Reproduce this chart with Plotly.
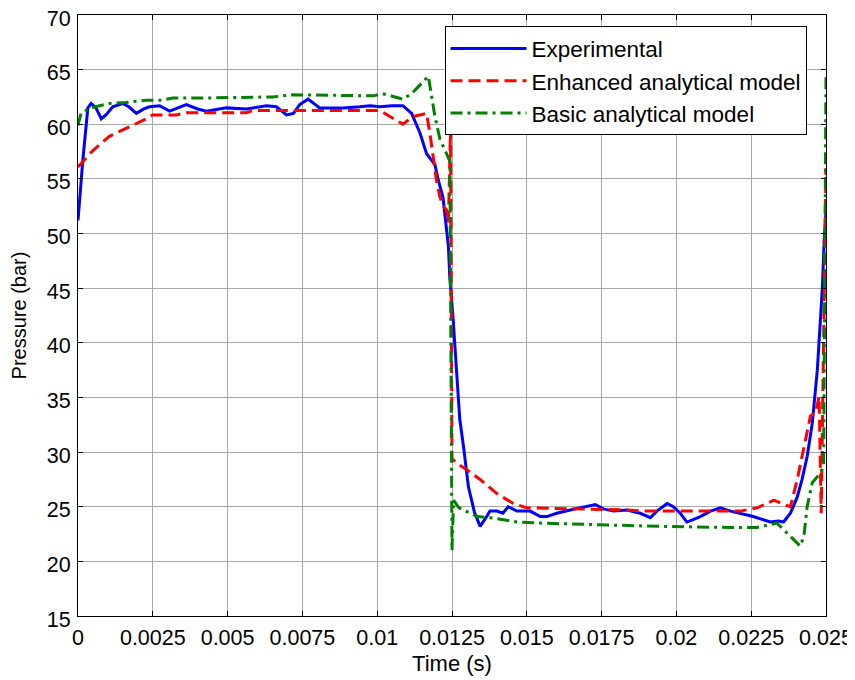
import plotly.graph_objects as go

# ---------------- data (time in s, pressure in bar) ----------------
exp_t = [0, 0.00016, 0.00033, 0.00044, 0.00060, 0.00078, 0.00095, 0.00116, 0.00149, 0.00170,
         0.00195, 0.00220, 0.00239, 0.00273, 0.00306, 0.00335, 0.00362, 0.00400, 0.00429, 0.00496,
         0.00563, 0.00630, 0.00663, 0.00697, 0.00720, 0.00741, 0.00769, 0.00808, 0.00885, 0.00942,
         0.00976, 0.01009, 0.01050, 0.01086, 0.01115, 0.01143, 0.01165, 0.01193, 0.01204, 0.01220,
         0.01238, 0.01243, 0.01254, 0.01265, 0.01276, 0.01288, 0.01305, 0.01325, 0.01344, 0.01366,
         0.01377, 0.01400, 0.01420, 0.01438, 0.01467, 0.01511, 0.01545, 0.01567, 0.01600, 0.01645,
         0.01678, 0.01729, 0.01756, 0.01790, 0.01835, 0.01879, 0.01913, 0.01935, 0.01969, 0.01990,
         0.02013, 0.02035, 0.02058, 0.02080, 0.02114, 0.02147, 0.02181, 0.02214, 0.02257, 0.02314,
         0.02341, 0.02358, 0.02381, 0.02404, 0.02420, 0.02437, 0.02454, 0.02471, 0.02482, 0.02488,
         0.02494, 0.02500]
exp_p = [51.2, 56.7, 61.5, 61.9, 61.5, 60.5, 60.9, 61.6, 61.9, 61.6,
         61.0, 61.4, 61.6, 61.7, 61.2, 61.5, 61.8, 61.4, 61.2, 61.5,
         61.4, 61.7, 61.6, 60.85, 61.0, 61.8, 62.3, 61.5, 61.5, 61.6,
         61.7, 61.6, 61.7, 61.7, 61.0, 59.2, 57.3, 56.3, 54.9, 53.3,
         48.8, 45.8, 42.1, 37.5, 33.0, 30.6, 26.8, 24.5, 23.2, 24.1,
         24.6, 24.6, 24.4, 25.0, 24.6, 24.6, 24.1, 24.1, 24.4, 24.7,
         24.9, 25.2, 24.8, 24.6, 24.7, 24.4, 24.0, 24.6, 25.3, 25.0,
         24.4, 23.6, 23.85, 24.1, 24.6, 24.9, 24.6, 24.4, 24.1, 23.6,
         23.7, 23.6, 24.4, 25.9, 27.5, 29.6, 32.6, 37.5, 42.5, 45.1,
         49.4, 52.0]

enh_t = [0, 0.00050, 0.00105, 0.00161, 0.00228, 0.00249, 0.00329, 0.00362, 0.00563, 0.00584,
         0.01010, 0.01086, 0.01119, 0.01165, 0.01176, 0.01198, 0.01209, 0.01220, 0.01231, 0.01238,
         0.01245, 0.01250, 0.01265, 0.01298, 0.01344, 0.01400, 0.01455, 0.01500, 0.01678, 0.01835,
         0.01902, 0.02080, 0.02214, 0.02270, 0.02326, 0.02360, 0.02381, 0.02404, 0.02426, 0.02448,
         0.02465, 0.02477, 0.02484, 0.02500]
enh_p = [56.1, 57.6, 58.9, 59.6, 60.5, 60.85, 60.85, 61.06, 61.06, 61.25,
         61.25, 60.0, 60.7, 61.0, 59.2, 54.9, 53.4, 52.5, 52.2, 51.0,
         59.5, 29.4, 29.0, 28.4, 27.5, 26.2, 25.3, 24.9, 24.8, 24.7,
         24.6, 24.6, 24.6, 24.9, 25.6, 25.2, 25.0, 27.5, 30.5, 33.3,
         33.6, 35.1, 24.4, 56.0]

bas_t = [0, 0.00010, 0.00040, 0.00105, 0.00161, 0.00228, 0.00273, 0.00318, 0.00407, 0.00651,
         0.00719, 0.00942, 0.00986, 0.01019, 0.01086, 0.01115, 0.01171, 0.01193, 0.01210, 0.01232,
         0.01243, 0.01250, 0.01255, 0.01273, 0.01335, 0.01377, 0.01420, 0.01467, 0.01545, 0.01678,
         0.01947, 0.02181, 0.02269, 0.02336, 0.02370, 0.02414, 0.02426, 0.02437, 0.02454, 0.02482,
         0.02492, 0.02500]
bas_p = [59.9, 61.0, 61.5, 61.9, 62.0, 62.2, 62.2, 62.4, 62.4, 62.5,
         62.7, 62.6, 62.6, 62.8, 62.3, 62.8, 64.4, 60.7, 58.6, 57.3,
         56.6, 21.0, 25.6, 24.9, 24.1, 24.0, 23.8, 23.6, 23.5, 23.4,
         23.2, 23.1, 23.1, 23.5, 22.6, 21.4, 22.3, 25.0, 27.2, 28.1,
         28.7, 64.5]

x_ticks = [0, 0.0025, 0.005, 0.0075, 0.01, 0.0125, 0.015, 0.0175, 0.02, 0.0225, 0.025]
x_tick_text = ["0", "0.0025", "0.005", "0.0075", "0.01", "0.0125", "0.015", "0.0175", "0.02", "0.0225", "0.025"]
y_ticks = [15, 20, 25, 30, 35, 40, 45, 50, 55, 60, 65, 70]

series_names = ["Experimental", "Enhanced analytical model", "Basic analytical model"]

FONT = "Liberation Sans, Arial, sans-serif"

fig = go.Figure()
fig.add_trace(go.Scatter(x=exp_t, y=exp_p, mode="lines", name=series_names[0],
                         line=dict(color="#0000FF", width=3), legendgroup="a"))
fig.add_trace(go.Scatter(x=enh_t, y=enh_p, mode="lines", name=series_names[1],
                         line=dict(color="#FF0000", width=3, dash="12px,6px"), legendgroup="b"))
fig.add_trace(go.Scatter(x=bas_t, y=bas_p, mode="lines", name=series_names[2],
                         line=dict(color="#008000", width=3, dash="12px,5px,3px,5px"), legendgroup="c"))

# page body adds an 8 px offset, so the figure is 8 px smaller and margins shifted
fig.update_layout(
    width=847, height=672,
    margin=dict(l=70, r=29, t=7, b=64, autoexpand=False),
    paper_bgcolor="white", plot_bgcolor="white",
    font=dict(family=FONT, size=22, color="black"),
    showlegend=True,
    legend=dict(x=0.49, y=0.981, xanchor="left", yanchor="top",
                bgcolor="white", bordercolor="black", borderwidth=1,
                font=dict(size=22.5), itemwidth=76, tracegroupgap=0),
)
fig.update_xaxes(range=[0, 0.025], tickmode="array", tickvals=x_ticks, ticktext=x_tick_text,
                 showgrid=True, gridcolor="#a8a8a8", gridwidth=1, automargin=False,
                 showline=True, linecolor="black", linewidth=1, mirror="ticks",
                 ticks="inside", ticklen=5, tickcolor="black", zeroline=False,
                 tickfont=dict(size=21.5), ticklabelstandoff=2, ticklabeloverflow="allow",
                 title=dict(text="Time (s)", font=dict(size=22), standoff=6))
fig.update_yaxes(range=[15, 70], tickmode="array", tickvals=y_ticks,
                 showgrid=True, gridcolor="#a8a8a8", gridwidth=1, automargin=False,
                 showline=True, linecolor="black", linewidth=1, mirror="ticks",
                 ticks="inside", ticklen=5, tickcolor="black", zeroline=False,
                 tickfont=dict(size=21.5), ticklabelstandoff=2, ticklabeloverflow="allow",
                 ticklabelshift=3,
                 title=dict(text="Pressure (bar)", font=dict(size=20), standoff=15))

fig.write_html("out.html")
